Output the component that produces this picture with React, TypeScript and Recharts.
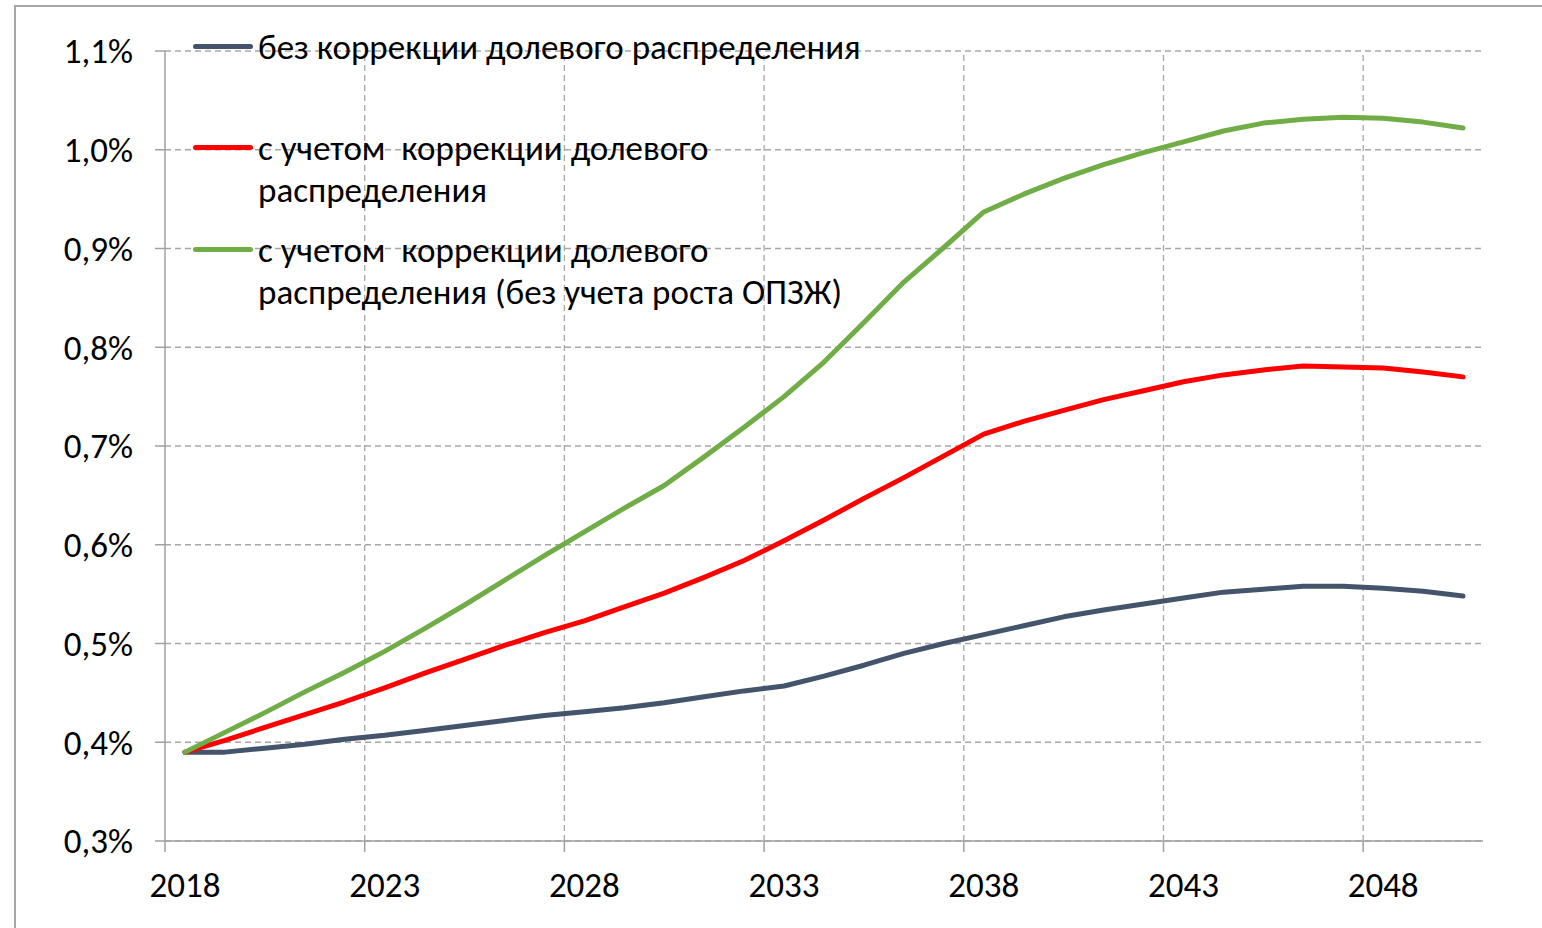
import React from "react";
import {
  LineChart,
  Line,
  XAxis,
  YAxis,
  CartesianGrid,
  ReferenceLine,
} from "recharts";

// Years on the category axis
const years = [
  2018, 2019, 2020, 2021, 2022, 2023, 2024, 2025, 2026, 2027, 2028,
  2029, 2030, 2031, 2032, 2033, 2034, 2035, 2036, 2037, 2038, 2039,
  2040, 2041, 2042, 2043, 2044, 2045, 2046, 2047, 2048, 2049, 2050,
];

// без коррекции долевого распределения, %
const baseShare = [
  0.39, 0.39, 0.394, 0.398, 0.403, 0.407, 0.412, 0.417, 0.422, 0.427, 0.431,
  0.435, 0.44, 0.446, 0.452, 0.457, 0.467, 0.478, 0.49, 0.5, 0.509, 0.518,
  0.527, 0.534, 0.54, 0.546, 0.552, 0.555, 0.558, 0.558, 0.556, 0.553, 0.548,
];

// с учетом коррекции долевого распределения, %
const correctedShare = [
  0.39, 0.402, 0.415, 0.428, 0.441, 0.455, 0.47, 0.484, 0.498, 0.511, 0.523,
  0.537, 0.551, 0.567, 0.584, 0.604, 0.625, 0.647, 0.668, 0.69, 0.712, 0.725,
  0.736, 0.747, 0.756, 0.765, 0.772, 0.777, 0.781, 0.78, 0.779, 0.775, 0.77,
];

// с учетом коррекции долевого распределения (без учета роста ОПЗЖ), %
const noGrowthShare = [
  0.39, 0.41, 0.43, 0.451, 0.471, 0.492, 0.515, 0.539, 0.564, 0.589, 0.613,
  0.637, 0.66, 0.689, 0.719, 0.75, 0.785, 0.825, 0.866, 0.901, 0.937, 0.955,
  0.971, 0.985, 0.997, 1.008, 1.019, 1.027, 1.031, 1.033, 1.032, 1.028, 1.022,
];

const yTicks = [0.3, 0.4, 0.5, 0.6, 0.7, 0.8, 0.9, 1.0, 1.1];
const yearLabels = [2018, 2023, 2028, 2033, 2038, 2043, 2048];
// tick marks / vertical grid sit between categories, every 5 years
const boundaryTicks = [2017.5, 2022.5, 2027.5, 2032.5, 2037.5, 2042.5, 2047.5];

const seriesNames = [
  "без коррекции долевого распределения",
  "с учетом  коррекции долевого\nраспределения",
  "с учетом  коррекции долевого\nраспределения (без учета роста ОПЗЖ)",
];
const seriesKeys = ["base", "corrected", "noGrowth"];
const seriesColors = ["#44546A", "#FF0000", "#70AD47"];

const data = years.map((year, i) => ({
  year,
  base: baseShare[i],
  corrected: correctedShare[i],
  noGrowth: noGrowthShare[i],
}));

const FONT = "Calibri, 'Open Sans', sans-serif";
const FONT_SIZE = 35;
const AXIS = "#a0a0a0";
const GRID = "#a6a6a6";

const XTick = (props: any) => {
  const { x, y, payload } = props;
  const v = payload.value;
  if (!Number.isInteger(v)) {
    return <line x1={x} x2={x} y1={y} y2={y + 11} stroke={AXIS} strokeWidth={1.5} />;
  }
  return (
    <text x={x} y={y + 56} textAnchor="middle" fill="#000" fontSize={FONT_SIZE} fontFamily={FONT}>
      {v}
    </text>
  );
};

const legendTops = [26, 127, 229];

const App = () => {
  return (
    <div
      style={{
        position: "absolute",
        left: 0,
        top: 0,
        width: 1542,
        height: 928,
        background: "#fff",
        fontFamily: FONT,
        overflow: "hidden",
      }}
    >
      {/* outer frame */}
      <div
        style={{
          position: "absolute",
          left: 14,
          top: 5,
          width: 1540,
          height: 940,
          borderLeft: "2px solid #a6a6a6",
          borderTop: "2px solid #a6a6a6",
        }}
      />

      <div style={{ position: "absolute", left: 0, top: 0 }}>
        <LineChart
          width={1542}
          height={928}
          data={data}
          margin={{ top: 51, right: 59, left: 0, bottom: 0 }}
        >
          <CartesianGrid vertical={false} stroke={GRID} strokeDasharray="6 4" strokeWidth={1.3} />
          {boundaryTicks.slice(1).map((b) => (
            <ReferenceLine key={b} x={b} stroke={GRID} strokeDasharray="6 4" strokeWidth={1.3} />
          ))}
          <XAxis
            dataKey="year"
            type="number"
            domain={[2017.5, 2050.5]}
            ticks={[...boundaryTicks, ...yearLabels].sort((a, b) => a - b)}
            interval={0}
            height={87}
            tickSize={0}
            tickMargin={0}
            tickLine={false}
            axisLine={{ stroke: AXIS, strokeWidth: 1.5 }}
            tick={<XTick />}
          />
          <YAxis
            type="number"
            domain={[0.3, 1.1]}
            ticks={yTicks}
            width={165}
            tickSize={10}
            tickMargin={22}
            tickLine={{ stroke: AXIS, strokeWidth: 1.5 }}
            axisLine={{ stroke: AXIS, strokeWidth: 1.5 }}
            tick={{ fill: "#000", fontSize: FONT_SIZE, fontFamily: FONT }}
            tickFormatter={(v: number) => v.toFixed(1).replace(".", ",") + "%"}
          />
          {seriesKeys.map((k, i) => (
            <Line
              key={k}
              type="linear"
              dataKey={k}
              stroke={seriesColors[i]}
              strokeWidth={5}
              dot={false}
              strokeLinejoin="round"
              strokeLinecap="round"
              isAnimationActive={false}
            />
          ))}
        </LineChart>
      </div>

      {/* Legend */}
      {seriesNames.map((name, i) => (
        <div
          key={name}
          style={{ position: "absolute", left: 193, top: legendTops[i] }}
        >
          <div
            style={{
              position: "absolute",
              left: 0,
              top: 18,
              width: 60,
              height: 5,
              borderRadius: 3,
              background: seriesColors[i],
            }}
          />
          <div
            style={{
              marginLeft: 65,
              fontSize: FONT_SIZE,
              lineHeight: "42px",
              color: "#000",
              whiteSpace: "pre",
            }}
          >
            {name}
          </div>
        </div>
      ))}
    </div>
  );
};

export default App;
